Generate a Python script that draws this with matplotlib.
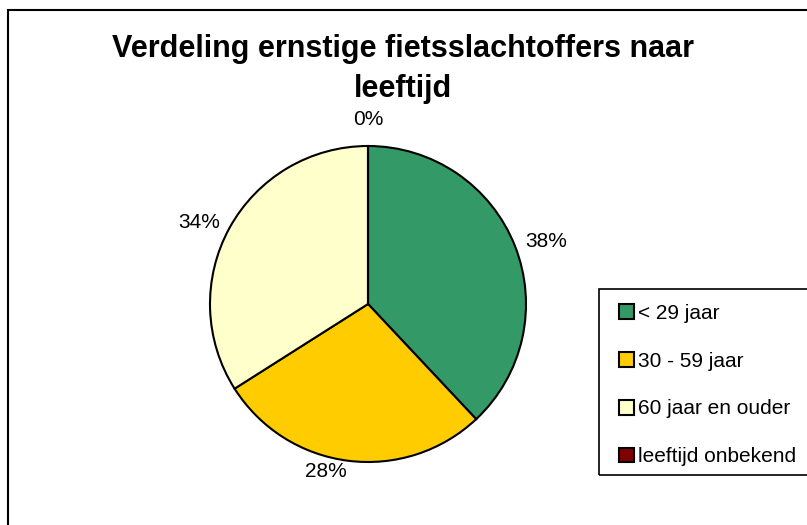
import matplotlib.pyplot as plt
from matplotlib.patches import Rectangle

plt.rcParams['font.family'] = ['Liberation Sans', 'DejaVu Sans']

categories = ['< 29 jaar', '30 - 59 jaar', '60 jaar en ouder', 'leeftijd onbekend']
values = [38, 28, 34, 0]
colors = ['#339966', '#FFCC00', '#FFFFCC', '#800000']
title_lines = ['Verdeling ernstige fietsslachtoffers naar', 'leeftijd']

W, H = 807, 525
fig = plt.figure(figsize=(W / 100, H / 100), dpi=100)

# outer chart border (right/bottom fall off the picture)
fig.patches.append(Rectangle((8 / W, -0.1), 1.2, (H - 10) / H + 0.1,
                             transform=fig.transFigure, fill=False,
                             edgecolor='black', linewidth=1.5))

cx, cy, r = 368, 304, 158
ax = fig.add_axes([(cx - r) / W, (H - cy - r) / H, 2 * r / W, 2 * r / H])
pct = ['%d%%' % v for v in values]
wedges, texts = ax.pie(values, colors=colors, labels=pct, startangle=90,
                       counterclock=False, labeldistance=1.07,
                       wedgeprops=dict(edgecolor='black', linewidth=1.5),
                       textprops=dict(fontsize=15))
ax.set_xlim(-1, 1)
ax.set_ylim(-1, 1)
ax.set_aspect('equal')
for t, v in zip(texts, values):
    if v == 0:
        # empty slice sits at the top, label centred above
        t.set_position((0, 1.11))
        t.set_ha('center')
        t.set_va('bottom')

fig.text(0.5, 1 - 57 / H, title_lines[0], ha='center', va='baseline',
         fontsize=22, fontweight='bold')
fig.text(0.5, 1 - 97 / H, title_lines[1], ha='center', va='baseline',
         fontsize=22, fontweight='bold')

# legend box
fig.patches.append(Rectangle((599 / W, 1 - 475 / H), 0.5, (475 - 289) / H,
                             transform=fig.transFigure, fill=False,
                             edgecolor='black', linewidth=1.2))
leg = fig.legend(wedges, categories, loc='upper left',
                 bbox_to_anchor=(619 / W, 1 - 304 / H), frameon=False,
                 fontsize=15, handlelength=0.72, handleheight=0.72,
                 handletextpad=0.2, labelspacing=1.38, borderaxespad=0,
                 borderpad=0)

fig.savefig('out.png', dpi=100)
